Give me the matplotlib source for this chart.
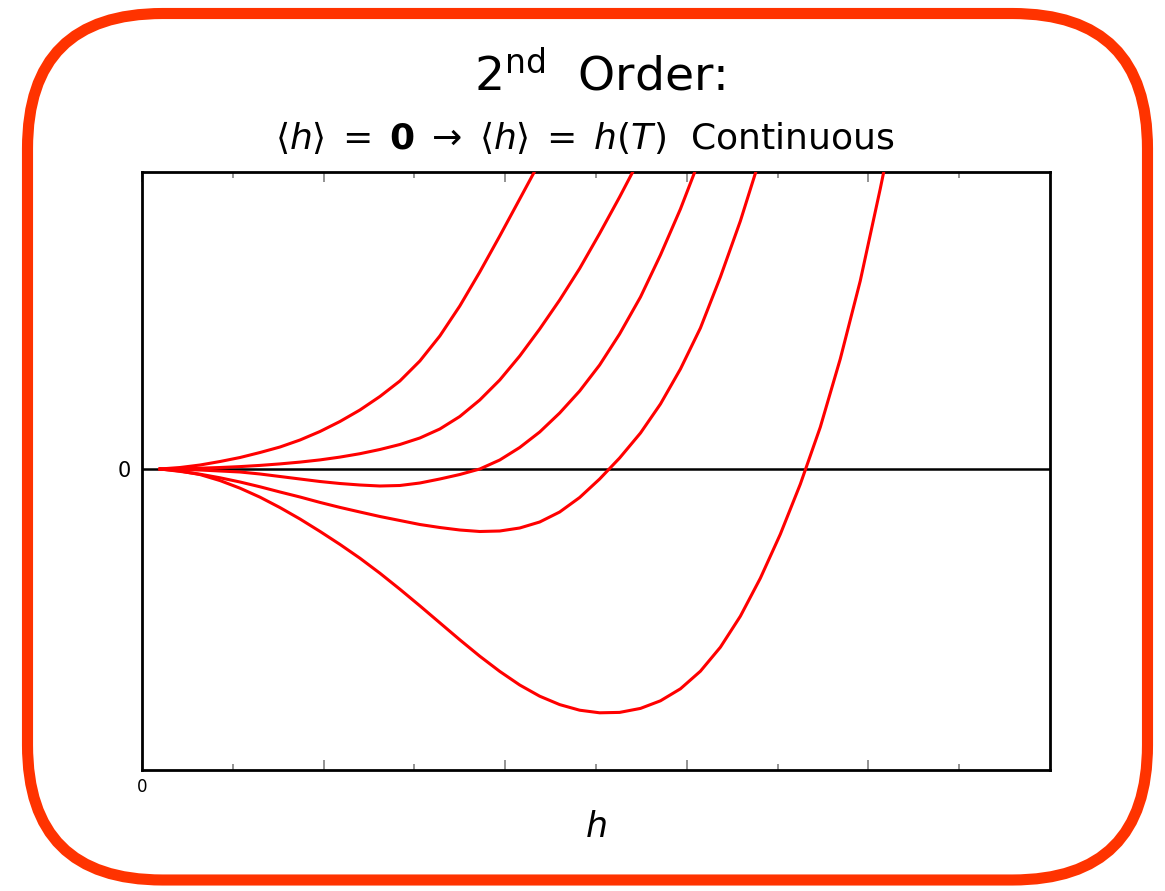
import matplotlib.pyplot as plt
from matplotlib.patches import FancyBboxPatch

# Curves: x in axis units (0..10), y in energy units (0 = black line)
x_a = [0.20, 0.42, 0.64, 0.86, 1.08, 1.30, 1.52, 1.74, 1.96, 2.18, 2.40, 2.62, 2.84, 3.06,
       3.28, 3.50, 3.72, 3.94, 4.16, 4.35]
y_a = [0, 0.015, 0.04, 0.075, 0.115, 0.165, 0.22, 0.29, 0.375, 0.475, 0.59, 0.725, 0.88, 1.08,
       1.33, 1.63, 1.97, 2.33, 2.70, 3.02]

x_b = [0.20, 0.42, 0.64, 0.86, 1.08, 1.30, 1.52, 1.74, 1.96, 2.18, 2.40, 2.62, 2.84, 3.06,
       3.28, 3.50, 3.72, 3.94, 4.16, 4.38, 4.60, 4.82, 5.04, 5.26, 5.45]
y_b = [0, 0.003, 0.008, 0.015, 0.024, 0.036, 0.051, 0.069, 0.091, 0.119, 0.153, 0.195, 0.245,
       0.31, 0.40, 0.525, 0.69, 0.89, 1.13, 1.40, 1.69, 2.005, 2.355, 2.72, 3.05]

x_c = [0.20, 0.42, 0.64, 0.86, 1.08, 1.30, 1.52, 1.74, 1.96, 2.18, 2.40, 2.62, 2.84, 3.06,
       3.28, 3.50, 3.72, 3.94, 4.16, 4.38, 4.60, 4.82, 5.04, 5.26, 5.49, 5.71, 5.93, 6.10]
y_c = [0, -0.005, -0.01, -0.02, -0.03, -0.05, -0.075, -0.10, -0.125, -0.145, -0.16, -0.17,
       -0.165, -0.14, -0.10, -0.055, 0, 0.09, 0.215, 0.37, 0.56, 0.78, 1.04, 1.35, 1.72, 2.14,
       2.60, 3.0]

x_d = [0.20, 0.42, 0.64, 0.86, 1.08, 1.30, 1.52, 1.74, 1.96, 2.18, 2.40, 2.62, 2.84, 3.06,
       3.28, 3.50, 3.72, 3.94, 4.16, 4.38, 4.60, 4.82, 5.04, 5.26, 5.49, 5.71, 5.93, 6.15,
       6.37, 6.59, 6.77]
y_d = [0, -0.024, -0.052, -0.088, -0.13, -0.178, -0.23, -0.28, -0.334, -0.384, -0.43, -0.475,
       -0.515, -0.555, -0.585, -0.61, -0.625, -0.62, -0.59, -0.53, -0.43, -0.285, -0.10, 0.11,
       0.36, 0.65, 1.00, 1.41, 1.92, 2.48, 3.0]

x_e = [0.20, 0.42, 0.64, 0.86, 1.08, 1.30, 1.52, 1.74, 1.96, 2.18, 2.40, 2.62, 2.84, 3.06,
       3.28, 3.50, 3.72, 3.94, 4.16, 4.38, 4.60, 4.82, 5.04, 5.26, 5.49, 5.71, 5.93, 6.15,
       6.37, 6.59, 6.81, 7.03, 7.25, 7.47, 7.69, 7.91, 8.13, 8.18]
y_e = [0, -0.02, -0.056, -0.116, -0.192, -0.282, -0.386, -0.50, -0.624, -0.754, -0.892,
       -1.042, -1.202, -1.368, -1.538, -1.708, -1.872, -2.024, -2.16, -2.272, -2.356, -2.412,
       -2.438, -2.434, -2.394, -2.318, -2.198, -2.022, -1.782, -1.472, -1.092, -0.652, -0.152,
       0.418, 1.10, 1.88, 2.80, 3.02]

curves = [(x_a, y_a), (x_b, y_b), (x_c, y_c), (x_d, y_d), (x_e, y_e)]

fig = plt.figure(figsize=(11.65, 8.91), dpi=100)

# rounded frame round the whole slide, drawn in pixel units
bg = fig.add_axes([0, 0, 1, 1])
bg.set_xlim(0, 1165)
bg.set_ylim(891, 0)
bg.axis('off')
frame = FancyBboxPatch((27.5, 13.5), 1120, 866.5,
                       boxstyle='round,pad=0,rounding_size=135',
                       fill=False, ec='#FF3300', lw=8)
bg.add_patch(frame)

ax = fig.add_axes([142 / 1165, 1 - 770 / 891, 908 / 1165, 598 / 891])
for xs, ys in curves:
    ax.plot(xs, ys, c='red', lw=2.2, solid_joinstyle='round', zorder=3)
ax.axhline(0, c='black', lw=1.8, zorder=2)

ax.set_xlim(0, 10)
ax.set_ylim(-3.01, 2.97)
for s in ax.spines.values():
    s.set_linewidth(2)

ax.set_xticks([0, 2, 4, 6, 8], ['0', '', '', '', ''])
ax.set_xticks([1, 3, 5, 7, 9], minor=True)
ax.tick_params(axis='x', which='major', direction='in', length=7, width=1.2,
               color='gray', top=True, labelsize=12, pad=6)
ax.tick_params(axis='x', which='minor', direction='in', length=4, width=1.2,
               color='gray', top=True)
ax.set_yticks([0], ['0'])
ax.tick_params(axis='y', length=0, labelsize=15, pad=8)

ax.set_xlabel('$h$', fontsize=25, labelpad=10)

fig.text(600 / 1165, 1 - 76 / 891, r'2$^{\rm nd}$  Order:', ha='center', va='center',
         fontsize=34)
fig.text(585 / 1165, 1 - 137 / 891,
         r'$\langle h\rangle\;=\;\mathbf{0}\;\rightarrow\;\langle h\rangle\;=\;h(T)$  Continuous',
         ha='center', va='center', fontsize=26)

fig.savefig('out.png', dpi=100)
